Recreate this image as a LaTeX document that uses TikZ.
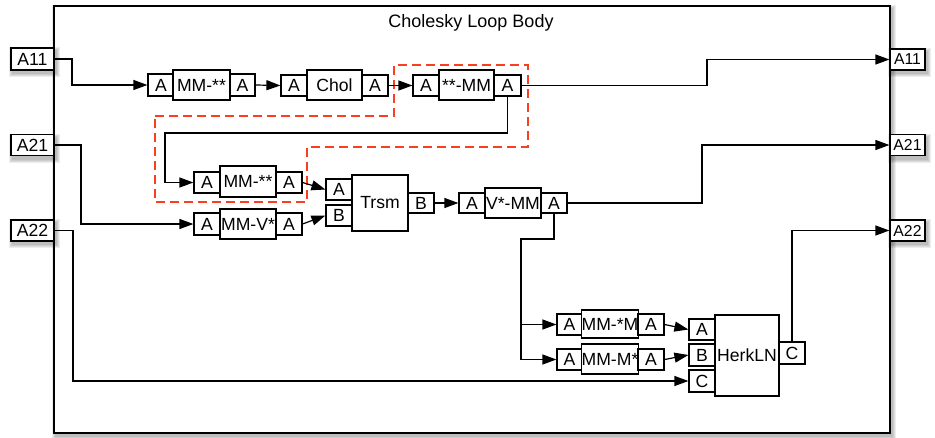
\documentclass[tikz,border=0pt]{standalone}
\usepackage{fontspec}
\setmainfont{Liberation Sans}
\usetikzlibrary{arrows.meta}
\definecolor{dashred}{RGB}{250,62,32}
\newcommand{\blkfont}{\fontsize{17.6}{19}\selectfont}
\newcommand{\titlefont}{\fontsize{18}{20}\selectfont}
\newcommand{\rportfont}{\fontsize{15.8}{17}\selectfont}
\newcommand{\softshadow}[4]{%
  \foreach \k in {1,...,4}{%
    \fill[black,opacity=0.07] ({#1+2-\k},{#2+3-\k}) rectangle ({#3+2+\k},{#4+3+\k});}}
\tikzset{
  box/.style={draw, line width=1.2pt, fill=white, inner sep=0pt, font=\blkfont},
  sz/.style 2 args={minimum width=#1pt, minimum height=#2pt},
  conn/.style={line width=1.2pt, -{Triangle[length=14pt,width=10pt]}},
  wire/.style={line width=1.2pt},
  region/.style={draw=dashred, line width=1.5pt, dash pattern=on 9pt off 5pt},
}
\begin{document}
\begin{tikzpicture}[x=1pt,y=-1pt]
\useasboundingbox (0,0) rectangle (935,437);
% frame
\softshadow{54}{6}{890}{433}
\node[box, sz={836}{427}, line width=1.5pt] (frame) at (472,219.5) {};
\node[font=\titlefont, inner sep=0pt] (title) at (471,23) {Cholesky Loop Body};
% outer ports
\softshadow{11}{48}{54}{70}
\softshadow{11}{134.5}{54}{155.5}
\softshadow{11}{220}{54}{241}
\softshadow{890}{49}{925}{70}
\softshadow{890}{134.5}{925}{155.5}
\softshadow{890}{220}{925}{241}
\node[box, sz={43}{22}] (inA11) at (32.5,59) {A11};
\node[box, sz={43}{21}] (inA21) at (32.5,145) {A21};
\node[box, sz={43}{21}] (inA22) at (32.5,230.5) {A22};
\node[box, sz={35}{21}, font=\rportfont] (outA11) at (907.5,59.5) {A11};
\node[box, sz={35}{21}, font=\rportfont] (outA21) at (907.5,145) {A21};
\node[box, sz={35}{21}, font=\rportfont] (outA22) at (907.5,230.5) {A22};
% dashed region
\draw[region] (155,116) -- (394,116) -- (394,65) -- (528,65) -- (528,147)
  -- (307,147) -- (307,202) -- (155,202) -- cycle;
% MM-** (top)
\node[box, sz={26}{22}] (p1i) at (161,85) {A};
\node[box, sz={57}{30}] (b1) at (201.5,85) {MM-**};
\node[box, sz={25}{22}] (p1o) at (242.5,85) {A};
% Chol
\node[box, sz={26}{21}] (p2i) at (294,85.5) {A};
\node[box, sz={55}{30}] (b2) at (334.5,85) {Chol};
\node[box, sz={26}{21}] (p2o) at (375,85.5) {A};
% **-MM
\node[box, sz={26}{21}] (p3i) at (426,85.5) {A};
\node[box, sz={55}{30}] (b3) at (466.5,85) {**-MM};
\node[box, sz={27}{21}] (p3o) at (507.5,85.5) {A};
% MM-** (second)
\node[box, sz={26}{21}] (p4i) at (207,182.5) {A};
\node[box, sz={56}{31}] (b4) at (248,181.5) {MM-**};
\node[box, sz={26}{21}] (p4o) at (289,182.5) {A};
% MM-V*
\node[box, sz={26}{22}] (p5i) at (207,224) {A};
\node[box, sz={56}{30}] (b5) at (248,224) {MM-V*};
\node[box, sz={26}{22}] (p5o) at (289,224) {A};
% Trsm
\node[box, sz={26}{21}] (pTa) at (339,189.5) {A};
\node[box, sz={26}{21}] (pTb) at (339,215.5) {B};
\node[box, sz={56}{56}] (bT) at (380,203) {Trsm};
\node[box, sz={26}{20}] (pTo) at (421,203) {B};
% V*-MM
\node[box, sz={26}{20}] (p6i) at (472,203) {A};
\node[box, sz={56}{30}] (b6) at (513,203) {V*-MM};
\node[box, sz={26}{20}] (p6o) at (554,203) {A};
% MM-*M
\node[box, sz={25}{21}] (p7i) at (569.5,324.5) {A};
\node[box, sz={56}{28}] (b7) at (610,324) {MM-*M};
\node[box, sz={26}{21}] (p7o) at (651,324.5) {A};
% MM-M*
\node[box, sz={25}{21}] (p8i) at (569.5,359.5) {A};
\node[box, sz={56}{30}] (b8) at (610,359) {MM-M*};
\node[box, sz={26}{21}] (p8o) at (651,359.5) {A};
% HerkLN
\node[box, sz={26}{21}] (pHa) at (702,329.5) {A};
\node[box, sz={26}{22}] (pHb) at (702,355) {B};
\node[box, sz={26}{22}] (pHc) at (702,381) {C};
\node[box, sz={64}{81}] (bH) at (747,355.5) {HerkLN};
\node[box, sz={26}{22}] (pHo) at (792,353) {C};
% connectors
\draw[conn] (inA11.east) -| (72,72) |- (p1i.west);
\draw[conn] (p1o.east) -- (p2i.west);
\draw[conn] (p2o.east) -- (p3i.west);
\draw[conn] (p3o.east) -| (707,72) |- (outA11.west);
\draw[conn] (p3o.south) |- (165,133) |- (p4i.west);
\draw[conn] (inA21.east) -| (81,185) |- (p5i.west);
\draw[conn] (p4o.east) -- (pTa.west);
\draw[conn] (p5o.east) -- (pTb.west);
\draw[conn] (pTo.east) -- (p6i.west);
\draw[conn] (p6o.east) -| (702,170) |- (outA21.west);
\coordinate (vx) at (521,239);
\draw[conn] (p6o.south) |- (vx) |- (p8i.west);
\draw[conn] (vx |- p7i.west) -- (p7i.west);
\draw[conn] (p7o.east) -- (pHa.west);
\draw[conn] (p8o.east) -- (pHb.west);
\draw[conn] (inA22.east) -| (73,300) |- (pHc.west);
\draw[conn] (pHo.north) |- (outA22.west);
\end{tikzpicture}
\end{document}
